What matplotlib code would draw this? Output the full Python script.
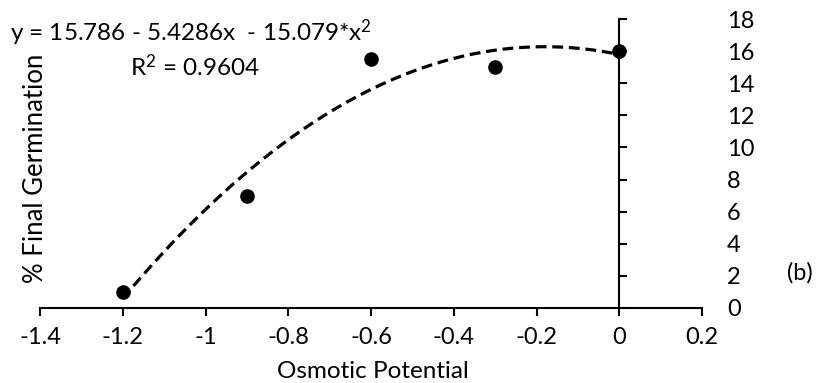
import numpy as np
import matplotlib
matplotlib.use("Agg")
import matplotlib.pyplot as plt

plt.rcParams['font.family'] = ['Lato', 'DejaVu Sans']
plt.rcParams['mathtext.fontset'] = 'custom'
plt.rcParams['mathtext.rm'] = 'Lato'
plt.rcParams['mathtext.it'] = 'Lato:italic'
plt.rcParams['mathtext.bf'] = 'Lato:bold'

osmotic = [-1.2, -0.9, -0.6, -0.3, 0.0]
germination = [1.0, 7.0, 15.5, 15.0, 16.0]
coeffs = [-15.079, -5.4286, 15.786]  # quadratic trendline (x^2, x, const)
xticks = [-1.4, -1.2, -1.0, -0.8, -0.6, -0.4, -0.2, 0.0, 0.2]
xticklabels = ['-1.4', '-1.2', '-1', '-0.8', '-0.6', '-0.4', '-0.2', '0', '0.2']
yticks = list(range(0, 19, 2))

W, H = 820, 383
fig = plt.figure(figsize=(W/100, H/100), dpi=100)
L, R, T, B = 40, 702, 19, 308
ax = fig.add_axes([L/W, 1-B/H, (R-L)/W, (B-T)/H])

xs = np.linspace(min(osmotic), max(osmotic), 200)
ax.plot(xs, np.polyval(coeffs, xs), color='black', lw=2.3, ls=(0, (3.4, 1.8)), zorder=2)
ax.plot(osmotic, germination, 'o', color='black', ms=9.5, zorder=3, clip_on=False)

ax.set_xlim(-1.4, 0.2)
ax.set_ylim(0, 18)
ax.set_xticks(xticks)
ax.set_xticklabels(xticklabels)
ax.set_yticks(yticks)

ax.spines['top'].set_visible(False)
ax.spines['right'].set_visible(False)
ax.spines['left'].set_position(('data', 0))
for s in ['left', 'bottom']:
    ax.spines[s].set_linewidth(1.5)

fs = 17
ax.tick_params(axis='x', direction='out', length=6, width=1.5, labelsize=fs, pad=8)
ax.tick_params(axis='y', direction='in', length=6, width=1.5, labelsize=fs,
               left=True, labelleft=False, right=False, labelright=True, pad=18)

fig.text(373/W, 1-372/H, 'Osmotic Potential', fontsize=17.5, ha='center', va='center')
fig.text(36/W, 1-168/H, '% Final Germination', rotation=90, fontsize=18.5,
         ha='center', va='center')

fig.text(10/W, 1-33/H, 'y = 15.786 - 5.4286x  - 15.079*x$^{2}$', fontsize=17.5,
         ha='left', va='center')
fig.text(130/W, 1-67/H, 'R$^{2}$ = 0.9604', fontsize=17.5, ha='left', va='center')
fig.text(787/W, 1-273/H, '(b)', fontsize=17, ha='left', va='center')

fig.savefig('out.png', dpi=100)
